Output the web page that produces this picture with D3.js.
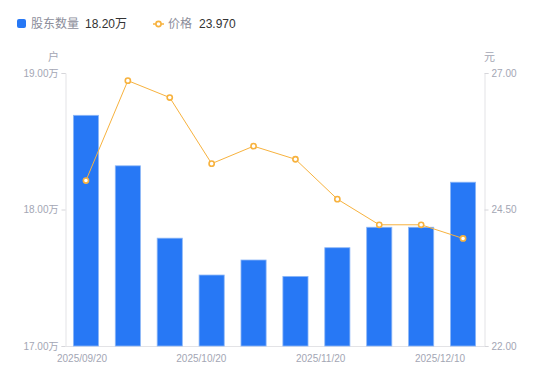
<!DOCTYPE html>
<html>
<head>
<meta charset="utf-8">
<script src="https://cdn.jsdelivr.net/npm/d3@7/dist/d3.min.js"></script>
<style>
body { margin: 0; background: #fff; }
text { font-family: "Liberation Sans", "Noto Sans CJK SC", sans-serif; }
</style>
</head>
<body>
<div id="chart"></div>
<script>
var dates = ["2025/09/20", "2025/09/30", "2025/10/10", "2025/10/20", "2025/10/31",
             "2025/11/10", "2025/11/20", "2025/11/28", "2025/11/30", "2025/12/10"];
var holders = [18.69, 18.32, 17.79, 17.52, 17.63, 17.51, 17.72, 17.87, 17.87, 18.20];
var prices = [25.03, 26.86, 26.55, 25.34, 25.66, 25.42, 24.69, 24.22, 24.22, 23.97];
var leftTicks = [17, 18, 19];
var rightTicks = [22, 24.5, 27];
var shownDates = ["2025/09/20", "2025/10/20", "2025/11/20", "2025/12/10"];

var width = 550, height = 381;
var margin = {top: 73, right: 66, bottom: 35, left: 65};

var svg = d3.select("#chart").append("svg")
    .attr("width", width)
    .attr("height", height);

var blue = "#2778f5", orange = "#f7b23e", grey = "#a3a6b4";

var x = d3.scaleBand().domain(dates)
    .range([margin.left, width - margin.right])
    .paddingInner(0.4).paddingOuter(0.2);
// labels sit a bit off the bar centres in the original
var xl = d3.scalePoint().domain(dates).range([82, 440]);
var y = d3.scaleLinear().domain([17, 19]).range([height - margin.bottom, margin.top]);
var y2 = d3.scaleLinear().domain([22, 27]).range([height - margin.bottom, margin.top]);

// left axis
var gl = svg.append("g").attr("transform", "translate(" + (margin.left + 0.5) + ",0)")
    .call(d3.axisLeft(y).tickValues(leftTicks).tickSize(4).tickPadding(3)
        .tickFormat(function (d) { return d3.format(".2f")(d) + "万"; }));
// right axis
var gr = svg.append("g").attr("transform", "translate(" + (width - margin.right + 0.5) + ",0)")
    .call(d3.axisRight(y2).tickValues(rightTicks).tickSize(4).tickPadding(3)
        .tickFormat(d3.format(".2f")));
[gl, gr].forEach(function (g) {
    g.select(".domain").attr("stroke", "#e3e3e6");
    g.selectAll(".tick line").attr("stroke", "#d6d6da");
    g.selectAll("text").attr("fill", grey).style("font-size", "10px");
});

// bottom line
svg.append("line")
    .attr("x1", margin.left).attr("x2", width - margin.right + 1)
    .attr("y1", y(17) + 0.5).attr("y2", y(17) + 0.5)
    .attr("stroke", "#e3e3e6");

svg.append("g").selectAll("text")
    .data(shownDates).enter().append("text")
    .attr("x", function (d) { return xl(d); })
    .attr("y", height - margin.bottom + 16)
    .attr("text-anchor", "middle")
    .attr("fill", grey)
    .style("font-size", "10px")
    .text(function (d) { return d; });

// unit labels
svg.append("text").attr("x", margin.left - 6).attr("y", 61)
    .attr("text-anchor", "end").attr("fill", grey).style("font-size", "11px").text("户");
svg.append("text").attr("x", width - margin.right).attr("y", 61)
    .attr("fill", grey).style("font-size", "11px").text("元");

// bars
svg.append("g").selectAll("rect")
    .data(holders).enter().append("rect")
    .attr("x", function (d, i) { return x(dates[i]); })
    .attr("y", function (d) { return y(d); })
    .attr("width", x.bandwidth())
    .attr("height", function (d) { return y(17) - y(d); })
    .attr("fill", blue)
    .attr("stroke", "#8db7f7")
    .attr("stroke-width", 0.8);

// price line
var line = d3.line()
    .x(function (d, i) { return x(dates[i]) + x.bandwidth() / 2; })
    .y(function (d) { return y2(d); });
svg.append("path").datum(prices)
    .attr("d", line)
    .attr("fill", "none")
    .attr("stroke", orange)
    .attr("stroke-width", 1);
svg.append("g").selectAll("circle")
    .data(prices).enter().append("circle")
    .attr("cx", function (d, i) { return x(dates[i]) + x.bandwidth() / 2; })
    .attr("cy", function (d) { return y2(d); })
    .attr("r", 2.6)
    .attr("fill", "#fff")
    .attr("stroke", orange)
    .attr("stroke-width", 1.6);

// legend
var lg = svg.append("g");
lg.append("rect").attr("x", 17).attr("y", 19).attr("width", 9).attr("height", 9)
    .attr("rx", 2).attr("fill", blue);
lg.append("text").attr("x", 31).attr("y", 28).attr("fill", "#8b8d9a")
    .style("font-size", "12px").text("股东数量");
lg.append("text").attr("x", 85).attr("y", 28).attr("fill", "#333")
    .style("font-size", "12px").text(d3.format(".2f")(holders[holders.length - 1]) + "万");
lg.append("line").attr("x1", 153).attr("x2", 164).attr("y1", 24).attr("y2", 24)
    .attr("stroke", orange).attr("stroke-width", 1.5);
lg.append("circle").attr("cx", 158.5).attr("cy", 24).attr("r", 2.6)
    .attr("fill", "#fff").attr("stroke", orange).attr("stroke-width", 1.6);
lg.append("text").attr("x", 168).attr("y", 28).attr("fill", "#8b8d9a")
    .style("font-size", "12px").text("价格");
lg.append("text").attr("x", 199).attr("y", 28).attr("fill", "#333")
    .style("font-size", "12px").text(d3.format(".3f")(prices[prices.length - 1]));
</script>
</body>
</html>
